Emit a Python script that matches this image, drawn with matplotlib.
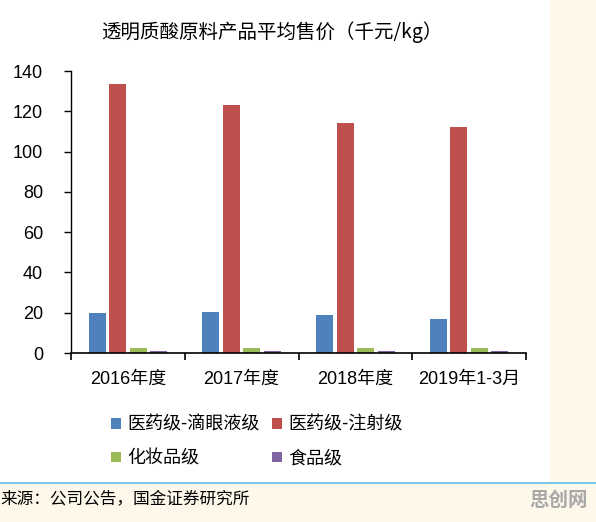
import matplotlib.pyplot as plt
import matplotlib.patches as mpatches
import numpy as np

periods = ["2016年度", "2017年度", "2018年度", "2019年1-3月"]
series_names = ["医药级-滴眼液级", "医药级-注射级", "化妆品级", "食品级"]
eye_drop = [20.0, 20.4, 18.9, 16.9]
injection = [133.5, 123.0, 114.0, 112.0]
cosmetic = [2.6, 2.7, 2.5, 2.3]
food = [1.0, 1.0, 1.1, 1.0]
colors = ["#4F81BD", "#C0504D", "#9BBB59", "#8064A2"]

cjk = ["Noto Sans CJK SC", "DejaVu Sans"]
latin = ["Liberation Sans", "Noto Sans CJK SC"]
cream = "#FDF8EA"

fig = plt.figure(figsize=(5.96, 5.22), dpi=100)
fig.patch.set_facecolor("white")

# cream strips on the right and bottom, blue rule above the source line
fig.patches.append(mpatches.Rectangle((550 / 596, 0), 1, 1, transform=fig.transFigure,
                                      facecolor=cream, edgecolor="none", zorder=0))
fig.patches.append(mpatches.Rectangle((0, 0), 1, 1 - 483 / 522, transform=fig.transFigure,
                                      facecolor=cream, edgecolor="none", zorder=0))
fig.lines.append(plt.Line2D([0, 1], [1 - 483 / 522] * 2, transform=fig.transFigure,
                            color="#5BC0E8", lw=1.2))

ax = fig.add_axes([71 / 596, 1 - 353 / 522, 455 / 596, 282 / 522])
ax.set_facecolor("none")

x = np.arange(len(periods))
offsets = [-0.27, -0.09, 0.09, 0.27]
width = 0.15
bars = []
for vals, off, c, name in zip([eye_drop, injection, cosmetic, food], offsets, colors, series_names):
    bars.append(ax.bar(x + off, vals, width, color=c, label=name))

ax.set_xlim(-0.5, len(periods) - 0.5)
ax.set_ylim(0, 140)
ax.set_yticks(range(0, 141, 20))
ax.set_yticklabels([str(v) for v in range(0, 141, 20)], family=latin, fontsize=13)
ax.tick_params(axis="y", direction="out", length=5, width=1, pad=15)

ax.set_xticks(x)
ax.set_xticklabels(periods, family=latin, fontsize=13)
ax.tick_params(axis="x", length=0, pad=13)
ax.set_xticks(np.arange(-0.5, len(periods)), minor=True)
ax.tick_params(axis="x", which="minor", direction="out", length=5, width=1.2)

for s in ["top", "right"]:
    ax.spines[s].set_visible(False)
ax.spines["left"].set_linewidth(1)
ax.spines["bottom"].set_linewidth(1.2)

fig.text(272 / 596, 1 - 32 / 522, "透明质酸原料产品平均售价（千元/kg）", family=cjk,
         fontsize=14, ha="center", va="center")

# legend fills column-first, so order handles to get rows: blue red / green purple
order = [0, 2, 1, 3]
fig.legend([bars[i] for i in order], [series_names[i] for i in order],
           loc="upper left", bbox_to_anchor=(102 / 596, 1 - 407 / 522), ncol=2,
           frameon=False, borderpad=0, prop={"family": cjk, "size": 13},
           handlelength=0.55, handleheight=0.55, handletextpad=0.35,
           columnspacing=0.7, labelspacing=0.85)

fig.text(0.0, 1 - 499 / 522, "来源：公司公告，国金证券研究所", family=cjk, fontsize=12,
         ha="left", va="center")
fig.text(588 / 596, 1 - 500 / 522, "思创网", family=cjk, fontsize=14, fontweight="bold",
         color="#A8A8A8", ha="right", va="center")

fig.savefig("out.png", dpi=100)
